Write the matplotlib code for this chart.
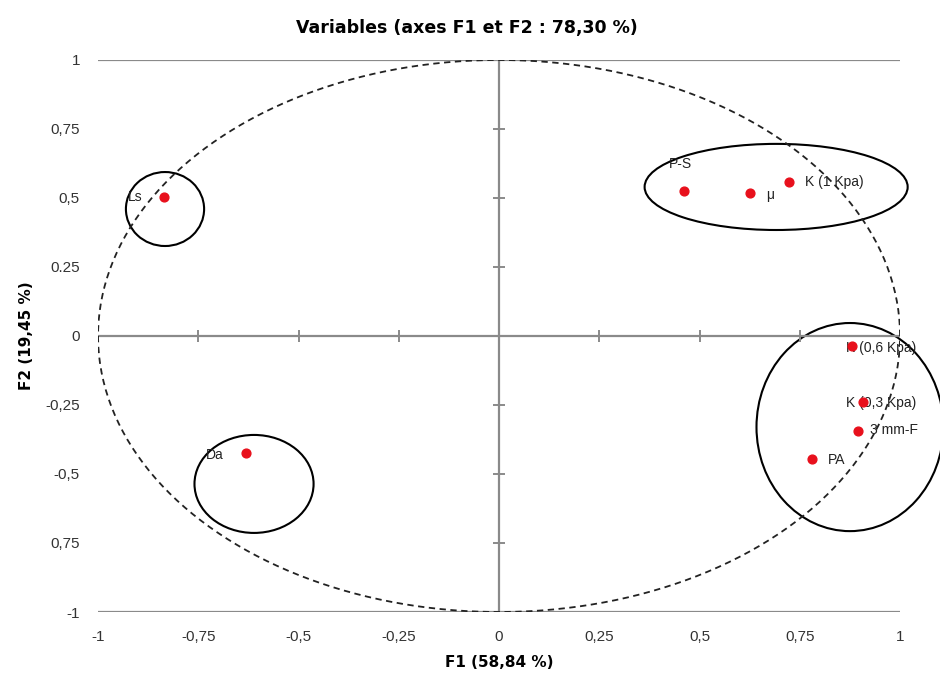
import matplotlib
matplotlib.use('agg')
import matplotlib.pyplot as plt
from matplotlib.patches import Ellipse
import numpy as np

plt.rcParams['font.family'] = ['Liberation Sans', 'DejaVu Sans']

# variables (F1, F2 coordinates)
names = ['Ls', 'Da', 'P-S', 'μ', 'K (1 Kpa)', 'K (0,6 Kpa)', 'K (0,3 Kpa)', '3 mm-F', 'PA']
f1 = [-0.835, -0.631, 0.461, 0.626, 0.723, 0.880, 0.908, 0.895, 0.781]
f2 = [0.504, -0.424, 0.525, 0.518, 0.558, -0.036, -0.239, -0.344, -0.446]

# label offsets in pixels (dx, dy) and alignment
label_offsets = [(-22, 0), (-22, -2), (-3, 27), (16, -2), (16, 0), (-6, -2), (-17, -1), (12, 1), (16, -1)]
label_ha = ['right', 'right', 'center', 'left', 'left', 'left', 'left', 'left', 'left']

ticks = [-1, -0.75, -0.5, -0.25, 0, 0.25, 0.5, 0.75, 1]
xtick_labels = ['-1', '-0,75', '-0,5', '-0,25', '0', '0,25', '0,5', '0,75', '1']
ytick_labels = ['-1', '0,75', '-0,5', '-0,25', '0', '0.25', '0,5', '0,75', '1']

# hand drawn groups: center x, center y, width, height
groups = [(-0.833, 0.46, 0.195, 0.268),
          (-0.611, -0.536, 0.297, 0.355),
          (0.691, 0.540, 0.656, 0.312),
          (0.875, -0.330, 0.466, 0.754)]

fig = plt.figure(figsize=(9.4, 6.8), dpi=100)
ax = fig.add_axes([0.1043, 0.1, 0.8532, 0.8118])
ax.set_xlim(-1, 1)
ax.set_ylim(-1, 1)
for s in ax.spines.values():
    s.set_visible(False)

gray = '#8a8a8a'
ax.axhline(1, color=gray, lw=1.6)
ax.axhline(-1, color=gray, lw=1.6)
ax.axhline(0, color=gray, lw=1.6)
ax.axvline(0, color=gray, lw=1.6)

# small tick marks on the center axes
tk = [t for t in ticks if t not in (-1, 0, 1)]
ax.plot(np.zeros(len(tk)), tk, ls='none', marker='_', ms=8, mew=1.4, color=gray)
ax.plot(tk, np.zeros(len(tk)), ls='none', marker='|', ms=8, mew=1.4, color=gray)

# correlation circle
th = np.linspace(0, 2 * np.pi, 400)
ax.plot(np.cos(th), np.sin(th), color='#222222', lw=1.3, ls=(0, (3.5, 2.5)))

ax.scatter(f1, f2, s=40, color='#e8101c', zorder=5)
for n, x, y, (dx, dy), ha in zip(names, f1, f2, label_offsets, label_ha):
    ax.annotate(n, (x, y), xytext=(dx * 0.72, dy * 0.72), textcoords='offset points',
                fontsize=10, color='#222222', va='center', ha=ha, zorder=4)

for cx, cy, w, h in groups:
    ax.add_patch(Ellipse((cx, cy), w, h, fill=False, ec='black', lw=1.5, clip_on=False))

ax.set_xticks(ticks)
ax.set_xticklabels(xtick_labels)
ax.set_yticks(ticks)
ax.set_yticklabels(ytick_labels)
ax.tick_params(axis='both', length=0, labelsize=11, colors='#333333')
ax.tick_params(axis='x', pad=13)
ax.tick_params(axis='y', pad=13)

ax.set_xlabel('F1 (58,84 %)', fontsize=11, fontweight='bold', family='DejaVu Sans', labelpad=8)
ax.set_ylabel('F2 (19,45 %)', fontsize=11, fontweight='bold', family='DejaVu Sans', labelpad=8)
fig.text(467 / 940, 1 - 28 / 680, 'Variables (axes F1 et F2 : 78,30 %)', fontsize=12.5,
         fontweight='bold', family='DejaVu Sans', ha='center', va='center')

fig.savefig('out.png', dpi=100)
